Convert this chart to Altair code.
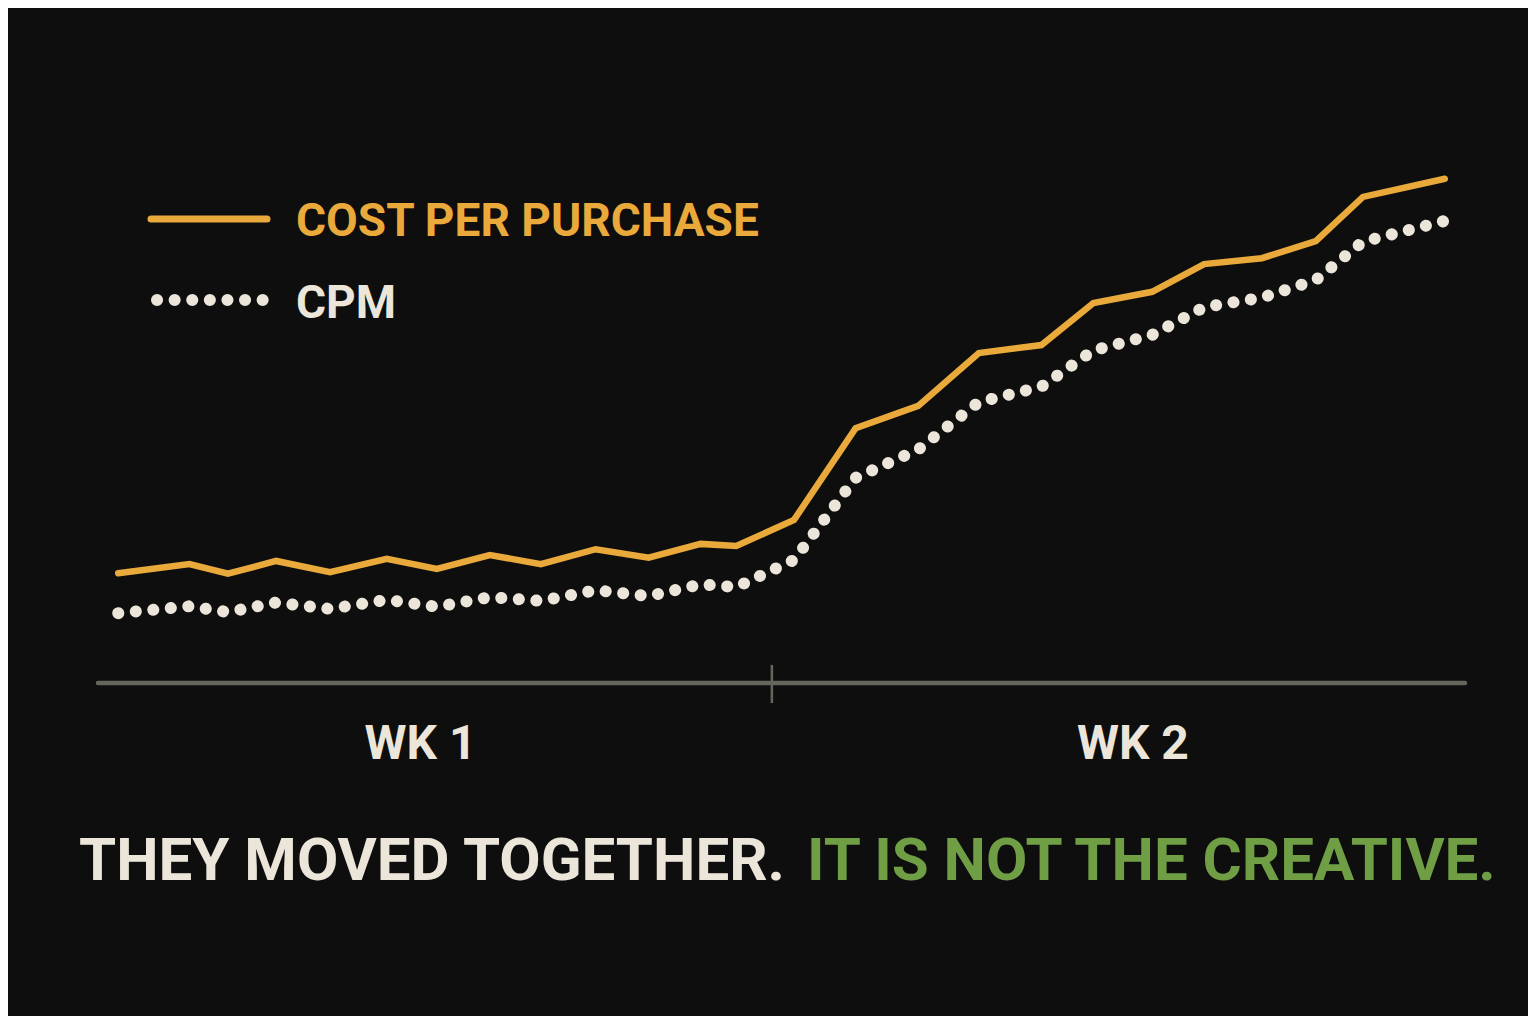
import altair as alt
import pandas as pd

# ---- data ----
day = [0.21, 0.95, 1.35, 1.85, 2.41, 3.00, 3.52, 4.07, 4.60, 5.17, 5.72, 6.26, 6.63,
       7.23, 7.87, 8.52, 9.15, 9.80, 10.34, 10.95, 11.49, 12.09, 12.65, 13.14, 13.99]
cost_per_purchase = [20.6, 22.3, 20.5, 22.9, 20.8, 23.3, 21.4, 24.0, 22.3, 25.1, 23.5, 26.1, 25.7,
                     30.6, 47.8, 52.0, 61.9, 63.4, 71.3, 73.4, 78.6, 79.7, 82.9, 91.2, 94.6]
cpm = [13.1, 14.4, 13.3, 15.1, 13.9, 15.6, 14.3, 16.1, 15.4, 17.4, 16.3, 18.5, 18.0,
       23.1, 38.5, 43.8, 52.7, 55.6, 62.4, 65.3, 70.5, 72.3, 75.6, 82.8, 86.7]
week_labels = ["WK 1", "WK 2"]
week_centers = [3.35, 10.75]
week_break = 7
series_names = ["COST PER PURCHASE", "CPM"]
headline_a = "THEY MOVED TOGETHER."
headline_b = "IT IS NOT THE CREATIVE."

BG = "#0e0e0e"
ORANGE = "#e9a93b"
CREAM = "#ece6da"
GREEN = "#6f9e44"
GRAY = "#66665e"
FONT = "Roboto, 'Liberation Sans', sans-serif"

df = pd.DataFrame({"day": day, "cpp": cost_per_purchase, "cpm": cpm})
weeks = pd.DataFrame({"label": week_labels, "x": week_centers})
axis_df = pd.DataFrame({"x": [0.0], "x2": [14.2], "y": [0.0]})
tick_df = pd.DataFrame({"x": [week_break], "y": [-3.75], "y2": [3.4]})

xs = alt.Scale(domain=[0, 14.2], nice=False, zero=False)
ys = alt.Scale(domain=[0, 100], nice=False, zero=False)

axis_line = alt.Chart(axis_df).mark_rule(color=GRAY, strokeWidth=4.5, strokeCap="round").encode(
    x=alt.X("x:Q", scale=xs, axis=None), x2="x2:Q",
    y=alt.Y("y:Q", scale=ys, axis=None))
tick = alt.Chart(tick_df).mark_rule(color=GRAY, strokeWidth=2.5).encode(
    x=alt.X("x:Q", scale=xs, axis=None),
    y=alt.Y("y:Q", scale=ys, axis=None), y2="y2:Q")
week_text = alt.Chart(weeks).mark_text(
    font=FONT, fontSize=48, fontWeight="bold", color=CREAM,
    align="center", baseline="alphabetic").encode(
    x=alt.X("x:Q", scale=xs, axis=None),
    y=alt.value(609), text="label:N")

cpp_line = alt.Chart(df).mark_line(
    color=ORANGE, strokeWidth=6.5, strokeCap="round", strokeJoin="miter").encode(
    x=alt.X("day:Q", scale=xs, axis=None),
    y=alt.Y("cpp:Q", scale=ys, axis=None))
cpm_line = alt.Chart(df).mark_line(
    color=CREAM, strokeWidth=12, strokeCap="round", strokeDash=[0.1, 17.5]).encode(
    x=alt.X("day:Q", scale=xs, axis=None),
    y=alt.Y("cpm:Q", scale=ys, axis=None))

# legend (decoration)
leg_line = alt.Chart(pd.DataFrame({"k": [0]})).mark_rule(
    color=ORANGE, strokeWidth=7, strokeCap="round").encode(
    x=alt.value(53), x2=alt.value(169), y=alt.value(69))
leg_dots = alt.Chart(pd.DataFrame({"k": [0]})).mark_rule(
    color=CREAM, strokeWidth=12, strokeCap="round", strokeDash=[0.1, 17.5]).encode(
    x=alt.value(59), x2=alt.value(166), y=alt.value(150))
leg_t1 = alt.Chart(pd.DataFrame({"t": [series_names[0]]})).mark_text(
    font=FONT, fontSize=46, fontWeight="bold", color=ORANGE,
    align="left", baseline="alphabetic").encode(
    x=alt.value(198), y=alt.value(86), text="t:N")
leg_t2 = alt.Chart(pd.DataFrame({"t": [series_names[1]]})).mark_text(
    font=FONT, fontSize=46, fontWeight="bold", color=CREAM,
    align="left", baseline="alphabetic").encode(
    x=alt.value(198), y=alt.value(168), text="t:N")

head_a = alt.Chart(pd.DataFrame({"t": [headline_a]})).mark_text(
    font=FONT, fontSize=60, fontWeight="bold", color=CREAM,
    align="right", baseline="alphabetic").encode(
    x=alt.value(687), y=alt.value(730), text="t:N")
head_b = alt.Chart(pd.DataFrame({"t": [headline_b]})).mark_text(
    font=FONT, fontSize=60, fontWeight="bold", color=GREEN,
    align="left", baseline="alphabetic").encode(
    x=alt.value(709), y=alt.value(730), text="t:N")

chart = alt.layer(
    axis_line, tick, week_text, cpp_line, cpm_line,
    leg_line, leg_dots, leg_t1, leg_t2, head_a, head_b
).properties(
    width=1367, height=533,
    padding={"left": 90, "top": 142, "right": 63, "bottom": 333},
    autosize=alt.AutoSizeParams(type="none"),
    background=BG,
).configure_view(stroke=None)

chart.save("out.html", embed_options={"renderer": "svg", "actions": False})
